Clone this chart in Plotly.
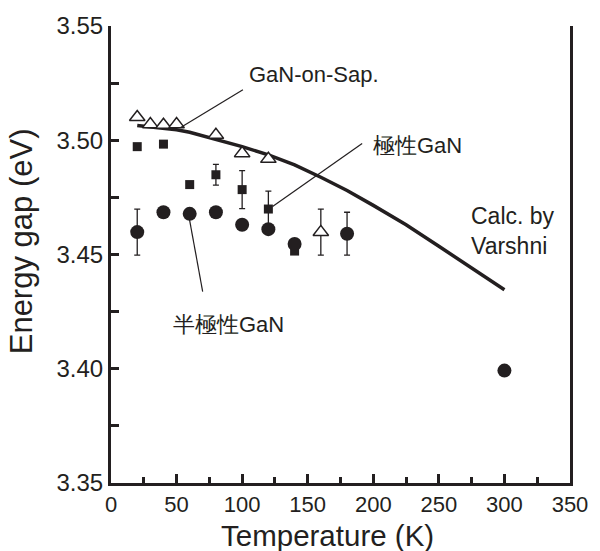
import plotly.graph_objects as go

INK = "#231f20"
FONT = "Liberation Sans, Arial, sans-serif"

# GaN-on-Sapphire (open triangles)
sap_T = [20, 30, 40, 50, 80, 100, 120, 160]
sap_E = [3.5101, 3.5070, 3.5067, 3.5070, 3.5023, 3.4943, 3.4918, 3.4598]
sap_err = [None, None, None, None, None, None, None, 0.0101]

# Polar GaN (filled squares)
polar_T = [20, 40, 60, 80, 100, 120, 140]
polar_E = [3.4972, 3.4983, 3.4806, 3.4849, 3.4784, 3.4699, 3.4515]
polar_err = [None, None, None, 0.0045, 0.0083, 0.0078, None]

# Semi-polar GaN (filled circles)
semi_T = [20, 40, 60, 80, 100, 120, 140, 180, 300]
semi_E = [3.4598, 3.4685, 3.4678, 3.4685, 3.4630, 3.4611, 3.4546, 3.4591, 3.3992]
semi_err = [0.0101, None, None, None, None, None, None, 0.0094, None]

# Varshni calculation
varshni_T = [20, 30, 40, 50, 60, 80, 100, 120, 140, 160, 180, 200, 225, 250, 275, 300]
varshni_E = [3.5065, 3.5058, 3.5052, 3.5046, 3.5035, 3.5005, 3.4972, 3.4936, 3.4892,
             3.4838, 3.4780, 3.4715, 3.4630, 3.4536, 3.4442, 3.4346]

# Labels with leader lines: text, text anchor (T, E), leader line from, to
labels = [
    ("GaN-on-Sap.", (103.6, 3.5286), (100.6, 3.5221), (53.1, 3.5056)),
    ("極性GaN", (198.5, 3.4979), (191.5, 3.4986), (123.2, 3.4710)),
    ("半極性GaN", (45.8, 3.4194), (69.9, 3.4338), (59.9, 3.4652)),
]
varshni_label = ("Calc. by<br>Varshni", (272.8, 3.4601))

x_ticks = [0, 50, 100, 150, 200, 250, 300, 350]
y_ticks = [3.35, 3.40, 3.45, 3.50, 3.55]

fig = go.Figure()

fig.add_trace(go.Scatter(x=varshni_T, y=varshni_E, mode="lines",
                         line=dict(color=INK, width=3.5), showlegend=False))

def err(arr):
    return dict(type="data", array=arr, visible=True, color=INK, thickness=1.3, width=3)

fig.add_trace(go.Scatter(x=polar_T, y=polar_E, mode="markers", error_y=err(polar_err),
                         marker=dict(symbol="square", size=9, color=INK), showlegend=False))
fig.add_trace(go.Scatter(x=semi_T, y=semi_E, mode="markers", error_y=err(semi_err),
                         marker=dict(symbol="circle", size=14, color=INK), showlegend=False))
fig.add_trace(go.Scatter(x=sap_T, y=sap_E, mode="markers", error_y=err(sap_err),
                         marker=dict(symbol="triangle-up", size=13.5, color="white",
                                     line=dict(color=INK, width=1.5)), showlegend=False))

annotations = []
shapes = []
for text, (tx, ty), (x0, y0), (x1, y1) in labels:
    shapes.append(dict(type="line", xref="x", yref="y", x0=x0, y0=y0, x1=x1, y1=y1,
                       line=dict(color=INK, width=1.2)))
    annotations.append(dict(text=text, x=tx, y=ty, xref="x", yref="y", showarrow=False,
                            xanchor="left", yanchor="middle",
                            font=dict(family=FONT, size=22, color=INK)))
annotations.append(dict(text=varshni_label[0], x=varshni_label[1][0], y=varshni_label[1][1],
                        xref="x", yref="y", showarrow=False, xanchor="left", yanchor="middle",
                        align="left", font=dict(family=FONT, size=23, color=INK)))
annotations.append(dict(text="Temperature (K)", x=0.472, y=-0.114, xref="paper", yref="paper",
                        showarrow=False, xanchor="center", yanchor="middle",
                        font=dict(family=FONT, size=29.5, color=INK)))
annotations.append(dict(text="Energy gap (eV)", x=-0.195, y=0.53, xref="paper", yref="paper",
                        showarrow=False, xanchor="center", yanchor="middle", textangle=-90,
                        font=dict(family=FONT, size=31, color=INK)))

fig.update_layout(
    width=600, height=551,
    margin=dict(l=111, r=23, t=20, b=68),
    paper_bgcolor="white", plot_bgcolor="white",
    font=dict(family=FONT, color=INK),
    annotations=annotations, shapes=shapes,
)
fig.update_xaxes(range=[0, 350], tickvals=x_ticks, ticks="inside", ticklen=9, tickwidth=2.5,
                 tickcolor=INK, showline=True, linecolor=INK, linewidth=3, showgrid=False,
                 zeroline=False, tickfont=dict(size=22, color=INK, family=FONT),
                 minor=dict(dtick=25, tick0=0, ticks="inside", ticklen=6, tickwidth=2.5,
                            tickcolor=INK, showgrid=False))
fig.update_yaxes(range=[3.35, 3.55], tickvals=y_ticks, tickformat=".2f", ticks="inside",
                 ticklen=8, tickwidth=2.5, tickcolor=INK, showline=True, mirror=True,
                 linecolor=INK, linewidth=3, showgrid=False, zeroline=False,
                 tickfont=dict(size=24, color=INK, family=FONT),
                 minor=dict(dtick=0.025, tick0=3.35, ticks="inside", ticklen=8, tickwidth=2.5,
                            tickcolor=INK, showgrid=False))

fig.write_html("out.html")
